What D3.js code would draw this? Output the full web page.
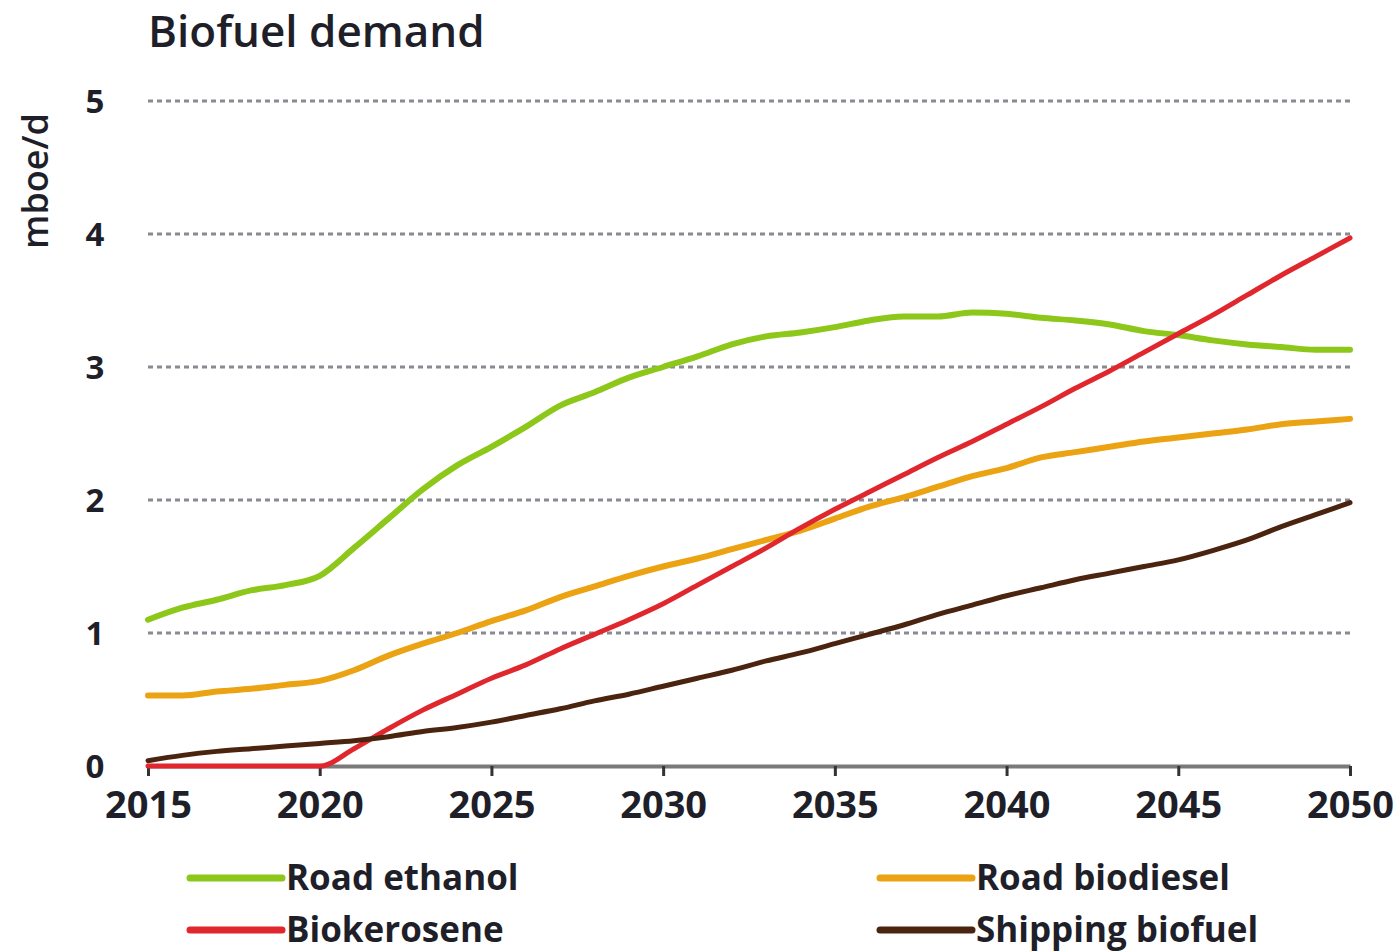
<!DOCTYPE html>
<html lang="en">
<head>
<meta charset="utf-8">
<title>Biofuel demand</title>
<script src="https://d3js.org/d3.v7.min.js"></script>
<style>
  body { margin: 0; background: #fff; }
  text { font-family: "Open Sans", "DejaVu Sans", sans-serif; fill: #1f1f2a; }
</style>
</head>
<body>
<script>
// data (mboe/d)
var years = d3.range(2015, 2051);
var roadEthanol = [1.10, 1.19, 1.25, 1.32, 1.36, 1.43, 1.64, 1.86, 2.08, 2.26,
                   2.40, 2.55, 2.71, 2.81, 2.92, 3.00, 3.08, 3.17, 3.23, 3.26,
                   3.30, 3.35, 3.38, 3.38, 3.41, 3.40, 3.37, 3.35, 3.32, 3.27,
                   3.24, 3.20, 3.17, 3.15, 3.13, 3.13];
var roadBiodiesel = [0.53, 0.53, 0.56, 0.58, 0.61, 0.64, 0.72, 0.83, 0.92, 1.00,
                     1.09, 1.17, 1.27, 1.35, 1.43, 1.50, 1.56, 1.63, 1.70, 1.77,
                     1.86, 1.95, 2.02, 2.10, 2.18, 2.24, 2.32, 2.36, 2.40, 2.44,
                     2.47, 2.50, 2.53, 2.57, 2.59, 2.61];
var biokerosene = [0.0, 0.0, 0.0, 0.0, 0.0, 0.0, 0.13, 0.28, 0.42, 0.54,
                   0.66, 0.76, 0.88, 0.99, 1.10, 1.22, 1.36, 1.50, 1.64, 1.79,
                   1.93, 2.06, 2.19, 2.32, 2.44, 2.57, 2.70, 2.84, 2.97, 3.11,
                   3.25, 3.39, 3.54, 3.69, 3.83, 3.97];
var shipping = [0.04, 0.08, 0.11, 0.13, 0.15, 0.17, 0.19, 0.22, 0.26, 0.29,
                0.33, 0.38, 0.43, 0.49, 0.54, 0.60, 0.66, 0.72, 0.79, 0.85,
                0.92, 0.99, 1.06, 1.14, 1.21, 1.28, 1.34, 1.40, 1.45, 1.50,
                1.55, 1.62, 1.70, 1.80, 1.89, 1.98];

var seriesNames = ["Road ethanol", "Road biodiesel", "Biokerosene", "Shipping biofuel"];
var seriesValues = [roadEthanol, roadBiodiesel, biokerosene, shipping];
var seriesColors = ["#8cc71a", "#eba313", "#e0272e", "#4b2410"];
var xTicks = [2015, 2020, 2025, 2030, 2035, 2040, 2045, 2050];
var yTicks = [0, 1, 2, 3, 4, 5];

var w = 1395, h = 951;
var plotLeft = 148, plotRight = 1350, plotTop = 101, plotBottom = 766;

var x = d3.scaleLinear().domain([2015, 2050]).range([plotLeft, plotRight]);
var y = d3.scaleLinear().domain([0, 5]).range([plotBottom, plotTop]);

var svg = d3.select("body").append("svg").attr("width", w).attr("height", h);

// title
svg.append("text").attr("x", 148).attr("y", 47)
  .style("font-size", "44px").style("font-weight", 600)
  .text("Biofuel demand");

// y axis label
svg.append("text")
  .attr("transform", "translate(48,181) rotate(-90)")
  .attr("text-anchor", "middle")
  .style("font-size", "36px").style("font-weight", 600)
  .text("mboe/d");

// gridlines
svg.append("g").selectAll("line").data(yTicks.filter(function(d) { return d > 0; }))
  .enter().append("line")
  .attr("x1", plotLeft).attr("x2", plotRight)
  .attr("y1", function(d) { return y(d); }).attr("y2", function(d) { return y(d); })
  .attr("stroke", "#8a8a92").attr("stroke-width", 3)
  .attr("stroke-dasharray", "5,4");

// y tick labels
svg.append("g").selectAll("text").data(yTicks)
  .enter().append("text")
  .attr("x", 95).attr("y", function(d) { return y(d) + 12; })
  .attr("text-anchor", "middle")
  .style("font-size", "33px").style("font-weight", 700)
  .text(function(d) { return d; });

// x axis
var xAxis = d3.axisBottom(x).tickValues(xTicks).tickSize(10).tickSizeOuter(0).tickFormat(d3.format("d"));
var gx = svg.append("g").attr("transform", "translate(0," + plotBottom + ")").call(xAxis);
gx.select(".domain").attr("stroke", "#7a7a7a").attr("stroke-width", 4);
gx.selectAll(".tick line").attr("stroke", "#333").attr("stroke-width", 3);
gx.selectAll(".tick text").attr("y", 25)
  .style("font-size", "38px").style("font-weight", 700)
  .style("font-family", "'Open Sans', sans-serif").attr("fill", "#1f1f2a");

// lines
var line = d3.line()
  .x(function(d, i) { return x(years[i]); })
  .y(function(d) { return y(d); })
  .curve(d3.curveMonotoneX);

svg.append("g").selectAll("path").data(seriesValues)
  .enter().append("path")
  .attr("d", line)
  .attr("fill", "none")
  .attr("stroke", function(d, i) { return seriesColors[i]; })
  .attr("stroke-width", function(d, i) { return i < 2 ? 6 : 5; })
  .attr("stroke-linejoin", "round").attr("stroke-linecap", "round");

// legend
var legendPos = [[190, 878], [880, 878], [190, 930], [880, 930]];
var lg = svg.append("g").selectAll("g").data(seriesNames)
  .enter().append("g")
  .attr("transform", function(d, i) { return "translate(" + legendPos[i][0] + "," + legendPos[i][1] + ")"; });
lg.append("line").attr("x1", 0).attr("x2", 92).attr("y1", 0).attr("y2", 0)
  .attr("stroke", function(d, i) { return seriesColors[i]; })
  .attr("stroke-width", 7).attr("stroke-linecap", "round");
lg.append("text").attr("x", 96).attr("y", 12)
  .style("font-size", "35px").style("font-weight", 700)
  .text(function(d) { return d; });
</script>
</body>
</html>
